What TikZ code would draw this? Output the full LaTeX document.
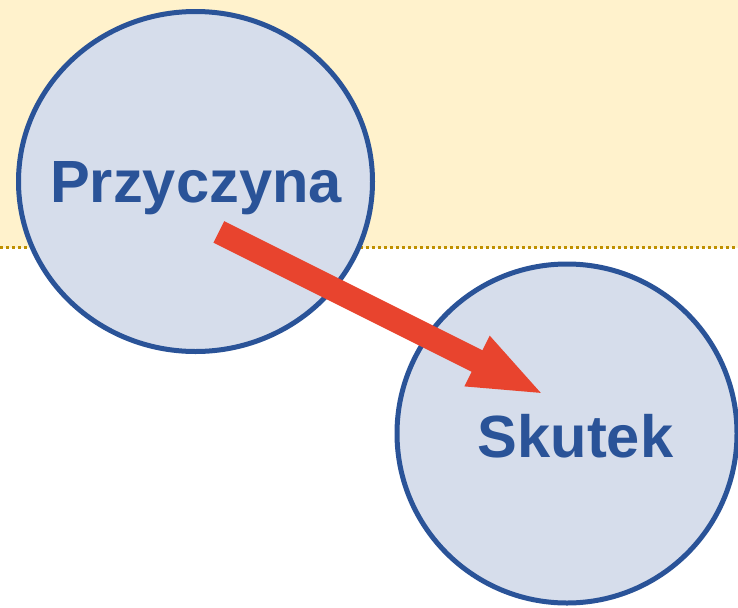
\documentclass[tikz,border=0pt]{standalone}
\usepackage{fontspec}
\setmainfont{Liberation Sans}
\usetikzlibrary{arrows.meta,shapes.geometric}

\newlength{\du}
\setlength{\du}{0.75pt}

\definecolor{bandcolor}{rgb}{1.000000, 0.949020, 0.800000}
\definecolor{dotcolor}{rgb}{0.749020, 0.564706, 0.000000}
\definecolor{discfill}{rgb}{0.839216, 0.866667, 0.921569}
\definecolor{discline}{rgb}{0.164706, 0.325490, 0.596078}
\definecolor{arrowred}{rgb}{0.909804, 0.266667, 0.180392}

\tikzset{
  disc/.style={ellipse, draw=discline, fill=discfill, line width=5\du, inner sep=0pt},
  disclabel/.style={anchor=base, text=discline, inner sep=0pt,
    font=\fontsize{44.7}{50}\selectfont\bfseries},
  % 76du long, 50du wide head
  bigarrow/.style={draw=arrowred, line width=24\du,
    -{Triangle[length=57pt,width=37.5pt]}}
}

\begin{document}
\begin{tikzpicture}
\pgftransformxscale{1.000000}
\pgftransformyscale{-1.000000}
\useasboundingbox (0\du,0\du) rectangle (738\du,607\du);
% band at the top
\fill[bandcolor] (0\du,0\du) rectangle (738\du,247.5\du);
\draw[dotcolor, line width=2.5\du, dash pattern=on 2.5\du off 3.5\du]
  (0\du,247.5\du) -- (738\du,247.5\du);
% the two circles
\node[disc, minimum width=354\du, minimum height=340\du] (przyczyna) at (195.5\du,181.5\du) {};
\node[disc, minimum width=340\du, minimum height=339\du] (skutek) at (567\du,433.5\du) {};
% labels
\node[disclabel] (przyczynalabel) at (196\du,202\du) {Przyczyna};
\node[disclabel] (skuteklabel) at (575.5\du,457\du) {Skutek};
% arrow
\coordinate (from) at (218.8\du,231.9\du);
\coordinate (to) at (545\du,395\du);
\draw[bigarrow] (from) -- (to);
\end{tikzpicture}
\end{document}
